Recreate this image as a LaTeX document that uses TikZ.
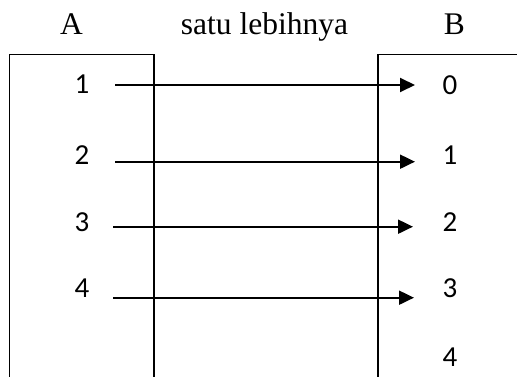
\documentclass[tikz,border=0pt]{standalone}
\usepackage{fontspec}
\setmainfont{Liberation Serif}
\newfontfamily\numfont{Carlito}
\usetikzlibrary{arrows.meta}
\tikzset{
  title/.style={anchor=base,inner sep=0pt,font=\fontsize{31.5}{36}\selectfont},
  num/.style={inner sep=0pt,font=\numfont\fontsize{29}{34}\selectfont},
  setline/.style={line width=1.3pt},
  maparrow/.style={line width=2pt,-{Triangle[length=15pt,width=14pt]}}
}
\begin{document}
\begin{tikzpicture}[x=1pt,y=-1pt]
\useasboundingbox (0,0) rectangle (517,377);
% sets
\draw[setline] (9.5,377) -- (9.5,54.5) -- (154,54.5) -- (154,377);
\draw[setline] (520,54.5) -- (378,54.5) -- (378,377);
% titles
\node[title] (tA) at (71.5,35) {A};
\node[title] (tM) at (264.5,35) {satu lebihnya};
\node[title] (tB) at (454.5,35) {B};
% left elements
\node[num] (a1) at (82,84) {1};
\node[num] (a2) at (82,155) {2};
\node[num] (a3) at (82,222) {3};
\node[num] (a4) at (82,288) {4};
% right elements
\node[num] (b0) at (450,85) {0};
\node[num] (b1) at (450,155) {1};
\node[num] (b2) at (450,222) {2};
\node[num] (b3) at (450,288) {3};
\node[num] (b4) at (450,357) {4};
% arrow ends
\coordinate (s1) at (115,85);    \coordinate (e1) at (415,85);
\coordinate (s2) at (115,161.7); \coordinate (e2) at (415,161.7);
\coordinate (s3) at (113,226.7); \coordinate (e3) at (413,226.7);
\coordinate (s4) at (113,297.7); \coordinate (e4) at (414,297.7);
\draw[maparrow] (s1) -- (e1);
\draw[maparrow] (s2) -- (e2);
\draw[maparrow] (s3) -- (e3);
\draw[maparrow] (s4) -- (e4);
\end{tikzpicture}
\end{document}
